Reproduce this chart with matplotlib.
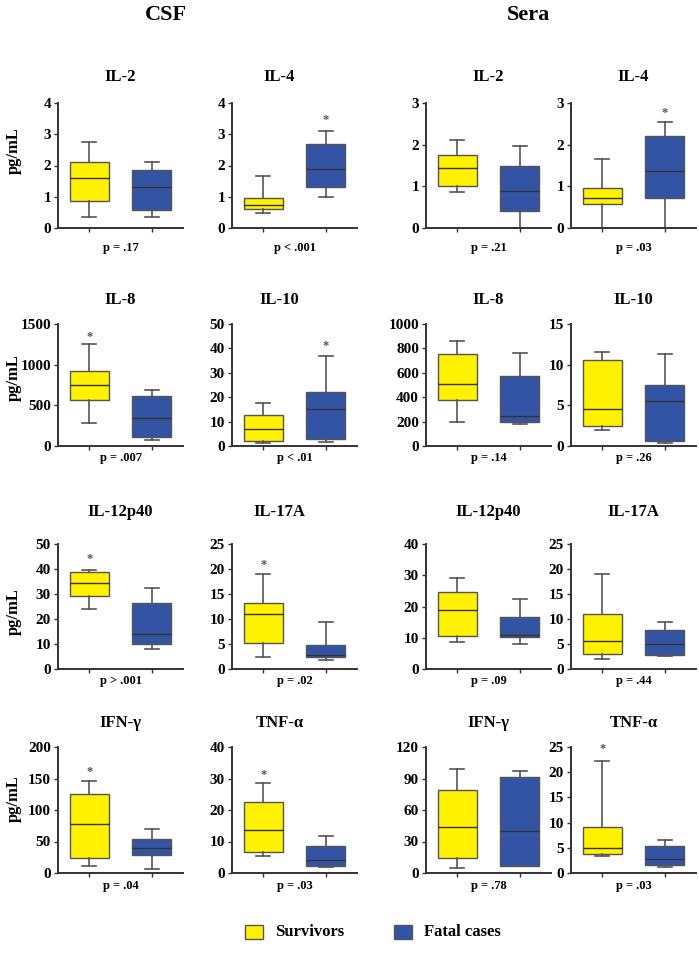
import matplotlib.pyplot as plt

plt.rcParams['font.family'] = ['Liberation Serif', 'DejaVu Serif']
plt.rcParams['font.weight'] = 'bold'

# Daten: Whisker unten, Q1, Median, Q3, Whisker oben
titles = ["IL-2", "IL-4", "IL-2", "IL-4",
          "IL-8", "IL-10", "IL-8", "IL-10",
          "IL-12p40", "IL-17A", "IL-12p40", "IL-17A",
          "IFN-γ", "TNF-α", "IFN-γ", "TNF-α"]

survivors = [
    [0.35, 0.88, 1.6, 2.1, 2.74],
    [0.48, 0.6, 0.75, 0.95, 1.65],
    [0.87, 1.0, 1.45, 1.75, 2.12],
    [0.0, 0.57, 0.73, 0.95, 1.65],
    [288, 563, 752, 920, 1253],
    [1.2, 2.1, 6.9, 12.8, 17.7],
    [197, 378, 507, 751, 858],
    [1.93, 2.5, 4.56, 10.56, 11.5],
    [24.1, 29.1, 34.6, 39.0, 39.6],
    [2.4, 5.13, 11.0, 13.2, 19.1],
    [8.56, 10.5, 18.9, 24.5, 29.05],
    [2.08, 3.0, 5.7, 11.06, 19.1],
    [11.6, 23.8, 77.8, 125.4, 145.5],
    [5.5, 6.7, 13.8, 22.4, 28.5],
    [5.05, 14.2, 43.9, 78.6, 99.2],
    [3.36, 3.75, 4.93, 9.08, 22.2],
]

fatal = [
    [0.35, 0.57, 1.32, 1.85, 2.1],
    [0.98, 1.3, 1.88, 2.68, 3.1],
    [0.0, 0.42, 0.88, 1.5, 1.98],
    [0.0, 0.73, 1.37, 2.2, 2.55],
    [74, 107, 341, 620, 690],
    [1.8, 3.0, 15.1, 22.1, 37.0],
    [178, 200, 249, 573, 762],
    [0.37, 0.62, 5.55, 7.52, 11.26],
    [8.0, 10.2, 13.9, 26.5, 32.6],
    [1.87, 2.47, 2.87, 4.73, 9.47],
    [8.1, 10.2, 10.8, 16.7, 22.3],
    [2.68, 2.75, 5.1, 7.84, 9.5],
    [6.9, 29.1, 39.7, 54.5, 69.8],
    [1.9, 2.24, 4.2, 8.5, 11.7],
    [6.6, 6.9, 40.1, 91.9, 97.3],
    [1.25, 1.58, 2.83, 5.26, 6.58],
]

y_max = [4, 4, 3, 3, 1500, 50, 1000, 15, 50, 25, 40, 25, 200, 40, 120, 25]
y_step = [1, 1, 1, 1, 500, 10, 200, 5, 10, 5, 10, 5, 50, 10, 30, 5]

p_labels = ["p = .17", "p < .001", "p = .21", "p = .03",
            "p = .007", "p < .01", "p = .14", "p = .26",
            "p > .001", "p = .02", "p = .09", "p = .44",
            "p = .04", "p = .03", "p = .78", "p = .03"]

# Sternchen: (Gruppe, y-Wert) oder None
stars = [None, (2, 3.45), None, (2, 2.76),
         (1, 1340), (2, 41), None, None,
         (1, 44), (1, 20.8), None, None,
         (1, 161), (1, 31), None, (1, 24.6)]

yellow = "#FFF100"
blue = "#3354A4"
edge = "#555555"

fig = plt.figure(figsize=(6.99, 9.6), dpi=100)
W, H = 699, 960

col_left = [58, 232, 426, 571]
ax_w = 125
row_top = [103, 324, 544, 747]
row_bot = [228, 446, 669, 873]
p_gap = [20, 12, 12, 13]
title_gap = [26, 24, 32, 24]
ylab_y = [0.62, 0.56, 0.46, 0.59]

for i in range(16):
    r, c = divmod(i, 4)
    left = col_left[c]
    top, bot = row_top[r], row_bot[r]
    ax = fig.add_axes([left / W, 1 - bot / H, ax_w / W, (bot - top) / H])

    stats = []
    for d in (survivors[i], fatal[i]):
        stats.append(dict(whislo=d[0], q1=d[1], med=d[2], q3=d[3], whishi=d[4], fliers=[]))
    bp = ax.bxp(stats, positions=[1, 2], widths=0.62, capwidths=0.22,
                patch_artist=True, showfliers=False,
                boxprops=dict(edgecolor=edge, linewidth=1.0),
                whiskerprops=dict(color=edge, linewidth=1.2),
                capprops=dict(color=edge, linewidth=1.2),
                medianprops=dict(color="#333333", linewidth=1.0))
    bp['boxes'][0].set_facecolor(yellow)
    bp['boxes'][1].set_facecolor(blue)

    ax.set_xlim(0.5, 2.5)
    ax.set_ylim(0, y_max[i])
    ax.set_yticks(range(0, y_max[i] + 1, y_step[i]))
    ax.set_xticks([1, 2])
    ax.set_xticklabels(["", ""])
    for s in ("top", "right"):
        ax.spines[s].set_visible(False)
    for s in ("left", "bottom"):
        ax.spines[s].set_linewidth(1.4)
        ax.spines[s].set_color("#333333")
    ax.tick_params(axis="both", length=3, width=1.0, color="#333333",
                   labelsize=11, pad=2)
    for lab in ax.get_yticklabels():
        lab.set_fontweight("bold")

    tx = 0.5 if c != 1 else 0.38
    ax.text(tx, 1 + title_gap[r] / (bot - top), titles[i], transform=ax.transAxes,
            ha="center", va="center", fontsize=12, fontweight="bold")
    ax.text(0.5, -p_gap[r] / (bot - top), p_labels[i], transform=ax.transAxes,
            ha="center", va="center", fontsize=9, fontweight="bold")
    if stars[i] is not None:
        ax.text(stars[i][0], stars[i][1], "*", ha="center", va="center",
                fontsize=9, color="#555555", clip_on=False)

    if c == 0:
        ax.set_ylabel("pg/mL", fontsize=12, fontweight="bold")
        ax.yaxis.set_label_coords((22 - left) / ax_w, ylab_y[r])

fig.text(166 / W, 1 - 15 / H, "CSF", ha="center", va="center", fontsize=16, fontweight="bold")
fig.text(528 / W, 1 - 15 / H, "Sera", ha="center", va="center", fontsize=16, fontweight="bold")

# Legende
leg = fig.add_axes([0, 0, 1, 1], facecolor="none")
leg.set_axis_off()
leg.set_xlim(0, W)
leg.set_ylim(H, 0)
leg.add_patch(plt.Rectangle((245, 925), 18, 14, facecolor=yellow, edgecolor=edge, linewidth=1.0))
leg.text(275, 932, "Survivors", ha="left", va="center", fontsize=12, fontweight="bold")
leg.add_patch(plt.Rectangle((394, 925), 18, 14, facecolor=blue, edgecolor=edge, linewidth=1.0))
leg.text(424, 932, "Fatal cases", ha="left", va="center", fontsize=12, fontweight="bold")

fig.savefig("out.png", dpi=100)
